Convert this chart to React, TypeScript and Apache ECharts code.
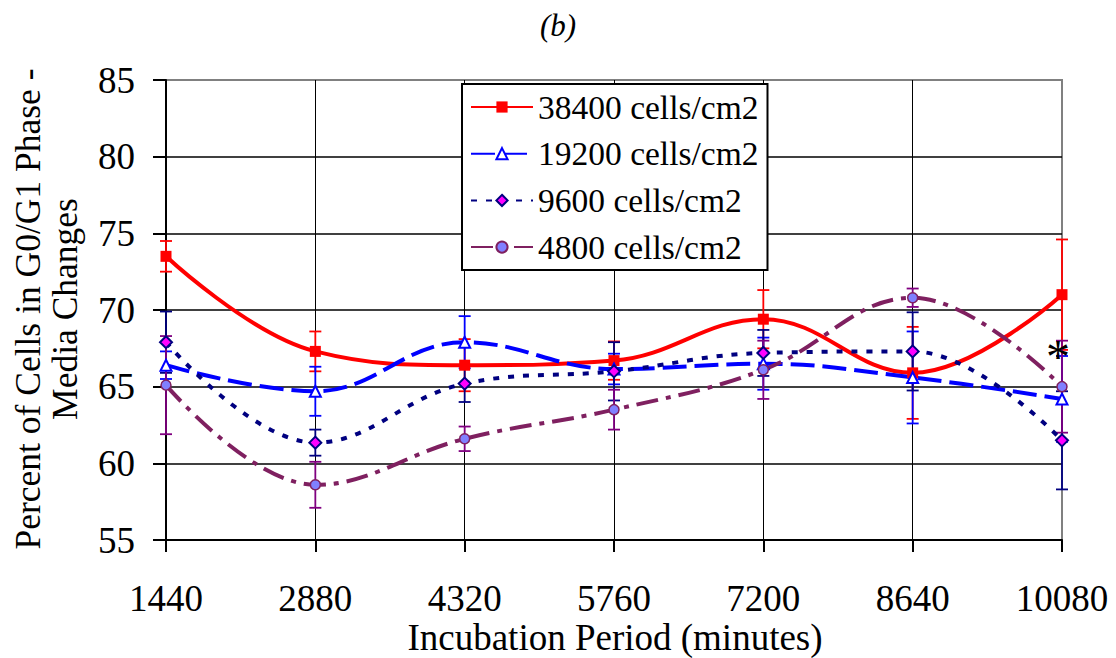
import React, { useEffect, useRef } from "react";
import * as echarts from "echarts";

// Incubation periods (minutes) along the x axis
const periods = [1440, 2880, 4320, 5760, 7200, 8640, 10080];

// Seeding densities shown in the legend
const seriesNames = ["38400 cells/cm2", "19200 cells/cm2", "9600 cells/cm2", "4800 cells/cm2"];

// Percent of cells in G0/G1 phase, with error bar half-widths
const density38400 = [73.5, 67.3, 66.4, 66.7, 69.4, 65.9, 71.0];
const err38400 = [1.0, 1.3, 1.7, 1.25, 1.9, 3.0, 3.6];
const density19200 = [66.4, 64.7, 67.9, 66.15, 66.5, 65.6, 64.2];
const err19200 = [0.9, 1.6, 1.7, 1.0, 1.7, 3.0, 2.8];
const density9600 = [67.9, 61.35, 65.2, 66.0, 67.2, 67.3, 61.5];
const err9600 = [2.0, 0.85, 1.2, 1.9, 1.5, 2.55, 3.2];
const density4800 = [65.1, 58.6, 61.6, 63.5, 66.1, 70.8, 65.0];
const err4800 = [3.2, 1.5, 0.8, 1.3, 1.9, 0.6, 3.0];

// Significance marker at the last period
const significance = { period: 10080, level: 67.0 };

const FONT = "Liberation Serif";

function errorBars(name: string, values: number[], errs: number[], color: string) {
  return {
    type: "custom",
    name: name + " error",
    z: 1,
    silent: true,
    data: periods.map((p, i) => [p, values[i] - errs[i], values[i] + errs[i]]),
    encode: { x: 0, y: [1, 2] },
    renderItem: (_params: any, api: any) => {
      const x = api.value(0);
      const lo = api.coord([x, api.value(1)]);
      const hi = api.coord([x, api.value(2)]);
      const half = 6;
      const style = { stroke: color, lineWidth: 1.8 };
      return {
        type: "group",
        children: [
          { type: "line", shape: { x1: lo[0], y1: lo[1], x2: hi[0], y2: hi[1] }, style },
          { type: "line", shape: { x1: lo[0] - half, y1: lo[1], x2: lo[0] + half, y2: lo[1] }, style },
          { type: "line", shape: { x1: hi[0] - half, y1: hi[1], x2: hi[0] + half, y2: hi[1] }, style },
        ],
      };
    },
  };
}

export default function App() {
  const ref = useRef<HTMLDivElement>(null);

  useEffect(() => {
    if (!ref.current) return;
    const chart = echarts.init(ref.current, undefined, { renderer: "svg" });
    const pairs = (vals: number[]) => periods.map((p, i) => [p, vals[i]]);

    chart.setOption({
      animation: false,
      backgroundColor: "#fff",
      textStyle: { fontFamily: FONT },
      grid: {
        left: 166,
        right: 54,
        top: 80,
        bottom: 118,
        show: true,
        borderColor: "#808080",
        borderWidth: 2,
      },
      legend: {
        data: seriesNames,
        orient: "vertical",
        left: 462,
        top: 84,
        itemWidth: 62,
        itemHeight: 14,
        itemGap: 10.7,
        padding: [5, 9, 5, 8],
        backgroundColor: "#fff",
        borderColor: "#000",
        borderWidth: 2,
        borderRadius: 0,
        textStyle: { fontFamily: FONT, fontSize: 33.5, color: "#000", lineHeight: 36 },
      },
      xAxis: {
        type: "value",
        min: 1440,
        max: 10080,
        interval: 1440,
        axisLine: { show: true, lineStyle: { color: "#000", width: 2 } },
        axisTick: { show: true, inside: false, length: 12, lineStyle: { color: "#000", width: 2 } },
        axisLabel: {
          color: "#000",
          fontSize: 37,
          fontFamily: FONT,
          margin: 40,
          formatter: (v: number) => String(v),
        },
        splitLine: { show: true, showMinLine: false, showMaxLine: false, lineStyle: { color: "#000", width: 1 } },
      },
      yAxis: {
        type: "value",
        min: 55,
        max: 85,
        interval: 5,
        axisLine: { show: true, lineStyle: { color: "#000", width: 2 } },
        axisTick: { show: true, inside: false, length: 13, lineStyle: { color: "#000", width: 2 } },
        axisLabel: { color: "#000", fontSize: 37, fontFamily: FONT, margin: 31 },
        splitLine: { show: true, showMinLine: false, showMaxLine: false, lineStyle: { color: "#000", width: 1.5 } },
      },
      graphic: [
        {
          type: "text",
          x: 558,
          y: 25,
          style: { text: "(b)", font: `italic 31px ${FONT}`, fill: "#000", align: "center", verticalAlign: "middle" },
        },
        {
          type: "text",
          x: 615,
          y: 637,
          style: { text: "Incubation Period (minutes)", font: `37px ${FONT}`, fill: "#000", align: "center", verticalAlign: "middle" },
        },
        {
          type: "text",
          x: 46,
          y: 309,
          rotation: Math.PI / 2,
          style: {
            text: "Percent of Cells in G0/G1 Phase -\nMedia Changes",
            font: `35.5px ${FONT}`,
            lineHeight: 37,
            fill: "#000",
            align: "center",
            verticalAlign: "middle",
          },
        },
      ],
      series: [
        errorBars(seriesNames[0], density38400, err38400, "#ff0000"),
        errorBars(seriesNames[1], density19200, err19200, "#0000ff"),
        errorBars(seriesNames[2], density9600, err9600, "#000080"),
        errorBars(seriesNames[3], density4800, err4800, "#800080"),
        {
          type: "line",
          name: seriesNames[0],
          data: pairs(density38400),
          smooth: 0.4,
          symbol: "rect",
          symbolSize: 11,
          z: 3,
          lineStyle: { color: "#ff0000", width: 4 },
          itemStyle: { color: "#ff0000" },
          markPoint: {
            symbol: "circle",
            symbolSize: 1,
            itemStyle: { color: "rgba(0,0,0,0)" },
            label: {
              show: true,
              position: "inside",
              formatter: "*",
              color: "#000",
              fontSize: 48,
              fontFamily: FONT,
              offset: [-4, 0],
            },
            data: [{ coord: [significance.period, significance.level] }],
          },
        },
        {
          type: "line",
          name: seriesNames[1],
          data: pairs(density19200),
          smooth: 0.4,
          symbol: "triangle",
          symbolSize: 11,
          z: 3,
          lineStyle: { color: "#0000ff", width: 4, type: [24, 8] },
          itemStyle: { color: "#ffffff", borderColor: "#0000ff", borderWidth: 2 },
        },
        {
          type: "line",
          name: seriesNames[2],
          data: pairs(density9600),
          smooth: 0.4,
          symbol: "diamond",
          symbolSize: 12,
          z: 3,
          lineStyle: { color: "#000080", width: 4, type: [6, 9] },
          itemStyle: { color: "#ff00ff", borderColor: "#000080", borderWidth: 2 },
        },
        {
          type: "line",
          name: seriesNames[3],
          data: pairs(density4800),
          smooth: 0.4,
          symbol: "circle",
          symbolSize: 10,
          z: 3,
          lineStyle: { color: "#7f2060", width: 4, type: [22, 8, 5, 8] },
          itemStyle: { color: "#8080ff", borderColor: "#7f2060", borderWidth: 1.5 },
        },
      ],
    });

    return () => chart.dispose();
  }, []);

  return (
    <div
      ref={ref}
      style={{ position: "fixed", left: 0, top: 0, width: 1116, height: 658, background: "#fff" }}
    />
  );
}
